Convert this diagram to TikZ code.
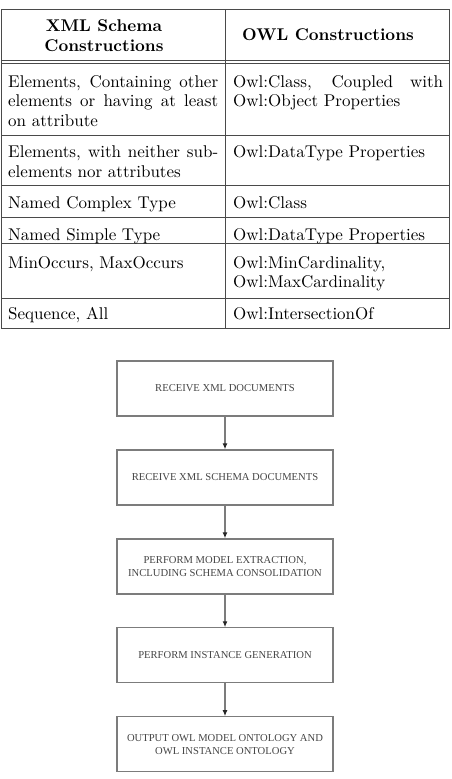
\documentclass[tikz,border=0pt]{standalone}
\usepackage{fontspec}
\setmainfont{lmroman10-regular.otf}[BoldFont=lmroman10-bold.otf]
\newfontfamily\flowfont{Liberation Serif}
\usetikzlibrary{positioning,arrows.meta}
\definecolor{rulegray}{HTML}{4A4A4A}
\definecolor{boxgray}{HTML}{7C7C7C}
\definecolor{flowtext}{HTML}{454545}
\tikzset{
  rule/.style={draw=rulegray, line width=1pt},
  cell/.style={anchor=north west, inner sep=0pt, text width=210pt, align=justify,
    font=\fontsize{17}{19.5}\selectfont, execute at begin node=\strut},
  headcell/.style={align=center, inner sep=0pt, font=\fontsize{17}{19.6}\selectfont\bfseries},
  stepbox/.style={draw=boxgray, line width=1.2pt, minimum width=216pt, minimum height=55pt,
    align=center, text=flowtext, font=\flowfont\fontsize{10.6}{13}\selectfont},
  flowarrow/.style={draw=boxgray, line width=1.2pt, -{Latex[length=6pt,width=5pt,color=black!85]}}
}
\begin{document}
\begin{tikzpicture}[x=1pt,y=-1pt]
\useasboundingbox (0,0) rectangle (451,779);
% table
\draw[rule] (1,9.5) rectangle (449.5,328.5);
\draw[rule] (225,9.5) -- (225,328.5);
\foreach \y in {60,63,135,185,217,243,298}
  \draw[rule] (1,\y) -- (449.5,\y);
\node[headcell] (hxml) at (104,35.5) {XML Schema\\Constructions};
\node[headcell] (howl) at (328,35) {OWL Constructions};
\node[cell] (xa) at (8,73.4) {Elements, Containing other\linebreak elements or having at least\linebreak on attribute};
\node[cell] (oa) at (233,73.4) {Owl:Class, Coupled with\linebreak Owl:Object Properties};
\node[cell] (xb) at (8,143.8) {Elements, with neither sub-\linebreak elements nor attributes};
\node[cell] (ob) at (233,143.8) {Owl:DataType Properties};
\node[cell] (xc) at (8,194.4) {Named Complex Type};
\node[cell] (oc) at (233,194.4) {Owl:Class};
\node[cell] (xd) at (8,226.4) {Named Simple Type};
\node[cell] (od) at (233,226.4) {Owl:DataType Properties};
\node[cell] (xe) at (8,254.4) {MinOccurs, MaxOccurs};
\node[cell] (oe) at (233,254.4) {Owl:MinCardinality,\newline Owl:MaxCardinality};
\node[cell] (xf) at (8,306) {Sequence, All};
\node[cell] (of) at (233,306) {Owl:IntersectionOf};
% flowchart
\node[stepbox] (recvxml) at (225,388.5) {RECEIVE XML DOCUMENTS};
\node[stepbox, below=32.75pt of recvxml] (recvxsd) {RECEIVE XML SCHEMA DOCUMENTS};
\node[stepbox, below=32.75pt of recvxsd] (extract) {PERFORM MODEL EXTRACTION,\\INCLUDING SCHEMA CONSOLIDATION};
\node[stepbox, below=32.75pt of extract] (instgen) {PERFORM INSTANCE GENERATION};
\node[stepbox, below=32.75pt of instgen] (output) {OUTPUT OWL MODEL ONTOLOGY AND\\OWL INSTANCE ONTOLOGY};
\draw[flowarrow] (recvxml) -- (recvxsd);
\draw[flowarrow] (recvxsd) -- (extract);
\draw[flowarrow] (extract) -- (instgen);
\draw[flowarrow] (instgen) -- (output);
\end{tikzpicture}
\end{document}
